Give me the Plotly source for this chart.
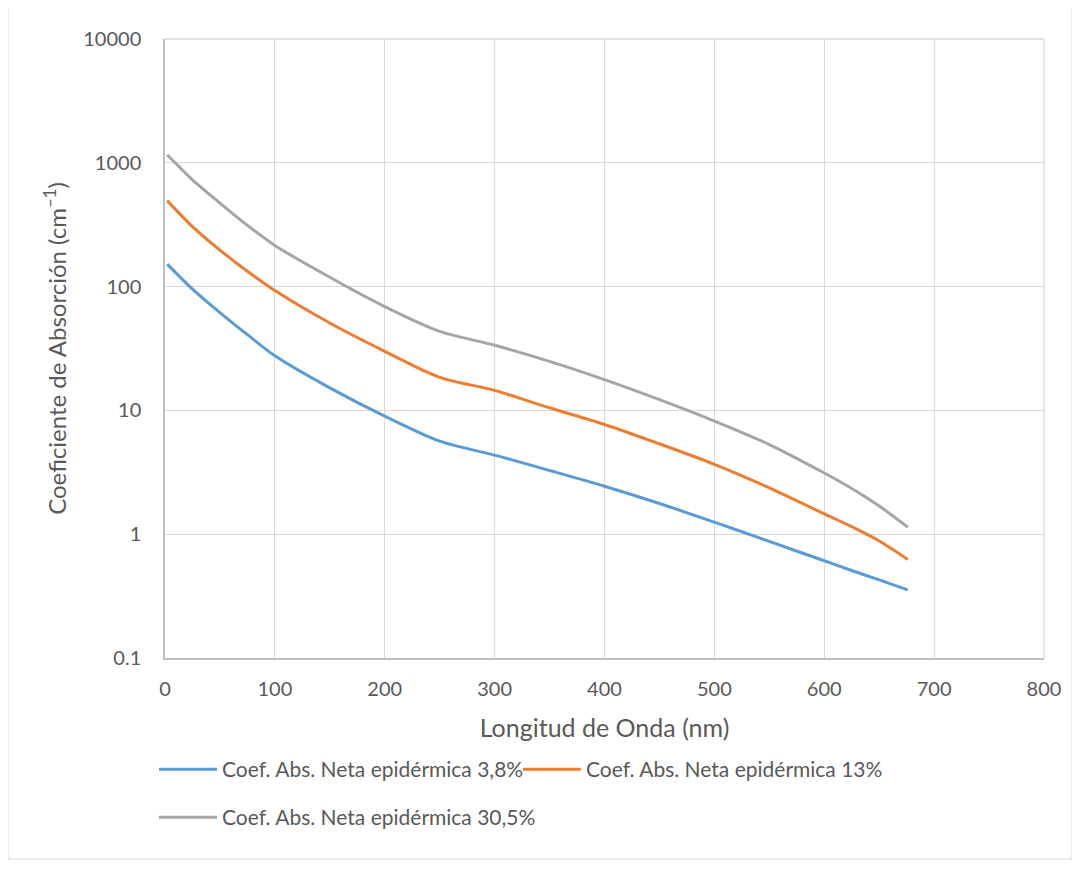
import plotly.graph_objects as go

wavelength = [2, 25, 50, 75, 100, 150, 200, 250, 300, 350, 400, 450, 500, 550, 600, 625, 650, 676]
coef_3_8 = [152, 95.5, 61.7, 40.9, 27.6, 15.2, 8.98, 5.64, 4.35, 3.27, 2.44, 1.77, 1.25, 0.875, 0.61, 0.509, 0.427, 0.355]
coef_13 = [495, 305, 197, 133, 93, 50.8, 30, 18.5, 14.5, 10.5, 7.7, 5.37, 3.67, 2.37, 1.46, 1.15, 0.881, 0.626]
coef_30_5 = [1160, 728, 473, 312, 215, 119, 69, 43.5, 33.6, 24.9, 17.7, 12.2, 8.2, 5.3, 3.12, 2.34, 1.69, 1.14]

names = ["Coef. Abs. Neta epidérmica 3,8%", "Coef. Abs. Neta epidérmica 13%",
         "Coef. Abs. Neta epidérmica 30,5%"]
colors = ["#5B9BD5", "#ED7D31", "#A5A5A5"]
legends = ["legend", "legend", "legend2"]
y_ticks = [0.1, 1, 10, 100, 1000, 10000]
y_ticktext = ["0.1", "1", "10", "100", "1000", "10000"]

FONT = "Lato"
fig = go.Figure()
for name, vals, c, lg in zip(names, [coef_3_8, coef_13, coef_30_5], colors, legends):
    fig.add_trace(go.Scatter(x=wavelength, y=vals, mode="lines", name=name, legend=lg,
                             line=dict(color=c, width=3, shape="spline", smoothing=0.8)))

OFF = 7  # page offset of the figure in the browser
W, H = 1080, 871
ml, mt = 164 - OFF, 38 - OFF
mr = W - (1043 - OFF)
mb = H - (657 - OFF)
pw, ph = W - ml - mr, H - mt - mb

def px(x):
    return (x - OFF - ml) / pw

def py(y):
    return (H - mb - (y - OFF)) / ph

leg_font = dict(size=21, color="#595959", family=FONT)

fig.update_layout(
    width=W, height=H,
    margin=dict(l=ml, r=mr, t=mt, b=mb),
    paper_bgcolor="white", plot_bgcolor="white",
    font=dict(family=FONT, color="#595959", size=20),
    xaxis=dict(range=[0, 800], dtick=100, showgrid=True, gridcolor="#D9D9D9", gridwidth=1.3,
               showline=True, linecolor="#BFBFBF", linewidth=1.5, zeroline=False,
               ticks="", ticklabelstandoff=12,
               title=dict(text="Longitud de Onda (nm)", font=dict(size=25, color="#595959"), standoff=21),
               tickfont=dict(size=20, color="#595959")),
    yaxis=dict(type="log", range=[-1, 4], tickvals=y_ticks, ticktext=y_ticktext,
               showgrid=True, gridcolor="#D9D9D9", gridwidth=1.3,
               showline=True, linecolor="#BFBFBF", linewidth=1.5, zeroline=False,
               ticks="", ticklabelstandoff=18,
               title=dict(text="Coeficiente de Absorción (cm<sup>–1</sup>)", font=dict(size=24, color="#595959"), standoff=10),
               tickfont=dict(size=20, color="#595959")),
    legend=dict(orientation="h", x=px(153), y=py(748), xanchor="left", yanchor="top",
                font=leg_font, entrywidth=291, entrywidthmode="pixels", itemwidth=58,
                bgcolor="rgba(0,0,0,0)"),
    legend2=dict(orientation="h", x=px(153), y=py(796), xanchor="left", yanchor="top",
                 font=leg_font, itemwidth=58, bgcolor="rgba(0,0,0,0)"),
    showlegend=True,
    shapes=[
        dict(type="rect", xref="paper", yref="paper", x0=px(7), x1=px(1071), y0=py(858), y1=py(6),
             line=dict(color="#D9D9D9", width=1), layer="below"),
        dict(type="line", xref="paper", yref="paper", x0=1, x1=1, y0=0, y1=1,
             line=dict(color="#D9D9D9", width=1.3)),
        dict(type="line", xref="paper", yref="paper", x0=0, x1=1, y0=1, y1=1,
             line=dict(color="#D9D9D9", width=1.3)),
    ],
)

fig.write_html("out.html")
